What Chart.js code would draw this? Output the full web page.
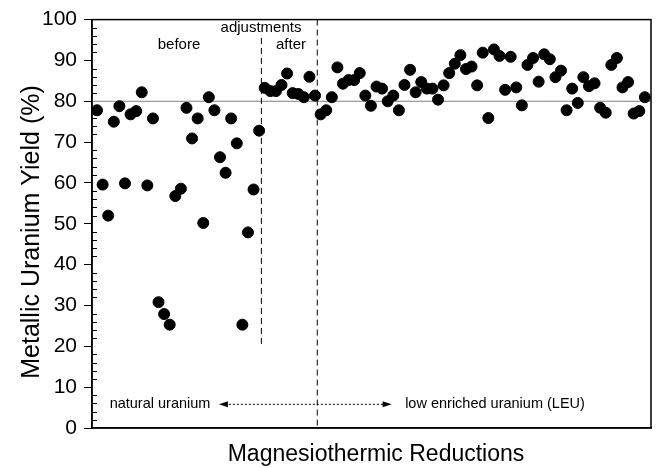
<!DOCTYPE html>
<html>
<head>
<meta charset="utf-8">
<script src="https://cdn.jsdelivr.net/npm/chart.js@4.4.0/dist/chart.umd.min.js"></script>
<style>
  body { margin: 0; background: #fff; }
  #wrap { width: 661px; height: 468px; }
</style>
</head>
<body>
<div id="wrap"><canvas id="chart"></canvas></div>
<script>
// yield of each magnesiothermic reduction, in run order
const yields = [
  77.8, 59.6, 52.0, 75.0, 78.8, 59.9, 76.8, 77.6, 82.2, 59.4,
  75.8, 30.8, 27.9, 25.3, 56.8, 58.6, 78.4, 70.9, 75.8, 50.2,
  81.0, 77.8, 66.3, 62.5, 75.8, 69.7, 25.3, 47.9, 58.4, 72.8,
  83.3, 82.5, 82.5, 84.0, 86.8, 82.0, 81.8, 81.0, 86.0, 81.4,
  76.8, 77.8, 81.0, 88.3, 84.3, 85.2, 85.2, 86.9, 81.4, 78.9,
  83.6, 83.1, 80.0, 81.4, 77.8, 84.0, 87.7, 82.2, 84.7, 83.1,
  83.1, 80.4, 83.9, 86.9, 89.2, 91.3, 87.9, 88.5, 83.9, 91.9,
  75.9, 92.7, 91.1, 82.8, 90.9, 83.4, 79.0, 88.9, 90.6, 84.8,
  91.5, 90.3, 85.9, 87.5, 77.8, 83.1, 79.6, 85.9, 83.7, 84.4,
  78.4, 77.2, 88.9, 90.6, 83.4, 84.7, 77.0, 77.6, 81.0
];
const yTicks = [0, 10, 20, 30, 40, 50, 60, 70, 80, 90, 100];
const targetYield = 80;
const adjustRun = 30.4;   // start of process adjustments
const leuRun = 40.4;      // switch natural -> LEU

const points = yields.map((y, i) => ({ x: i + 1, y: y }));

const decor = {
  id: 'decor',
  beforeDatasetsDraw(chart) {
    const { ctx, chartArea: a, scales: { x, y } } = chart;
    ctx.save();
    // 80% reference line
    ctx.strokeStyle = '#808080';
    ctx.lineWidth = 1;
    ctx.beginPath();
    ctx.moveTo(a.left, y.getPixelForValue(targetYield));
    ctx.lineTo(a.right, y.getPixelForValue(targetYield));
    ctx.stroke();
    // dashed separators
    ctx.strokeStyle = '#000';
    ctx.setLineDash([6, 4]);
    ctx.beginPath();
    ctx.moveTo(x.getPixelForValue(adjustRun), y.getPixelForValue(95.5));
    ctx.lineTo(x.getPixelForValue(adjustRun), y.getPixelForValue(19.7));
    ctx.moveTo(x.getPixelForValue(leuRun), a.top);
    ctx.lineTo(x.getPixelForValue(leuRun), a.bottom);
    ctx.stroke();
    // dotted arrow
    const ay = y.getPixelForValue(5.8);
    const x1 = x.getPixelForValue(22.8), x2 = x.getPixelForValue(53.7);
    ctx.setLineDash([2, 2]);
    ctx.beginPath();
    ctx.moveTo(x1 + 6, ay);
    ctx.lineTo(x2 - 6, ay);
    ctx.stroke();
    ctx.setLineDash([]);
    ctx.fillStyle = '#000';
    ctx.beginPath();
    ctx.moveTo(x1, ay); ctx.lineTo(x1 + 9, ay - 3); ctx.lineTo(x1 + 9, ay + 3); ctx.closePath();
    ctx.moveTo(x2, ay); ctx.lineTo(x2 - 9, ay - 3); ctx.lineTo(x2 - 9, ay + 3); ctx.closePath();
    ctx.fill();
    ctx.restore();
  },
  afterDraw(chart) {
    const { ctx, chartArea: a, scales: { x, y } } = chart;
    ctx.save();
    // frame
    ctx.strokeStyle = '#000';
    ctx.lineWidth = 1.5;
    ctx.strokeRect(a.left, a.top, a.right - a.left, a.bottom - a.top);
    // minor ticks, inside
    ctx.lineWidth = 1;
    ctx.beginPath();
    for (let v = 2; v < 100; v += 2) {
      if (v % 10 === 0) continue;
      const py = Math.round(y.getPixelForValue(v)) + 0.5;
      ctx.moveTo(a.left, py);
      ctx.lineTo(a.left + 5, py);
    }
    ctx.stroke();
    // annotations
    ctx.fillStyle = '#000';
    ctx.textAlign = 'center';
    ctx.textBaseline = 'alphabetic';
    ctx.font = '15px "Liberation Sans", Arial, sans-serif';
    ctx.fillText('before', 179, 49);
    ctx.fillText('adjustments', 261, 32);
    ctx.fillText('after', 291, 49);
    ctx.font = '14.5px "Liberation Sans", Arial, sans-serif';
    ctx.textBaseline = 'middle';
    ctx.fillText('natural uranium', 160, 404);
    ctx.fillText('low enriched uranium (LEU)', 495, 404);
    // axis titles
    ctx.font = '23px "Liberation Sans", Arial, sans-serif';
    ctx.textBaseline = 'alphabetic';
    ctx.fillText('Magnesiothermic Reductions', 376, 461);
    ctx.translate(39, 232);
    ctx.rotate(-Math.PI / 2);
    ctx.font = '25px "Liberation Sans", Arial, sans-serif';
    ctx.fillText('Metallic Uranium Yield (%)', 0, 0);
    ctx.restore();
  }
};

new Chart(document.getElementById('chart'), {
  type: 'scatter',
  data: {
    datasets: [{
      data: points,
      backgroundColor: '#000',
      borderColor: '#000',
      pointRadius: 5.5,
      pointHoverRadius: 5.5
    }]
  },
  options: {
    responsive: true,
    maintainAspectRatio: false,
    animation: false,
    layout: { padding: { top: 12, right: 10, left: 0, bottom: 0 } },
    plugins: { legend: { display: false }, tooltip: { enabled: false } },
    scales: {
      x: {
        type: 'linear',
        min: 0.1,
        max: 100.1,
        ticks: { display: false },
        grid: { display: false },
        border: { color: '#000', width: 1.5 },
        afterFit(s) { s.height = 40; }
      },
      y: {
        min: 0,
        max: 100,
        afterBuildTicks(s) { s.ticks = yTicks.map(v => ({ value: v })); },
        ticks: {
          color: '#000',
          padding: 7,
          font: { family: '"Liberation Sans", Arial, sans-serif', size: 21 }
        },
        grid: { drawOnChartArea: false, color: '#000', tickLength: 8 },
        border: { color: '#000', width: 1.5 },
        afterFit(s) { s.width = 92; }
      }
    }
  },
  plugins: [decor]
});
</script>
</body>
</html>
